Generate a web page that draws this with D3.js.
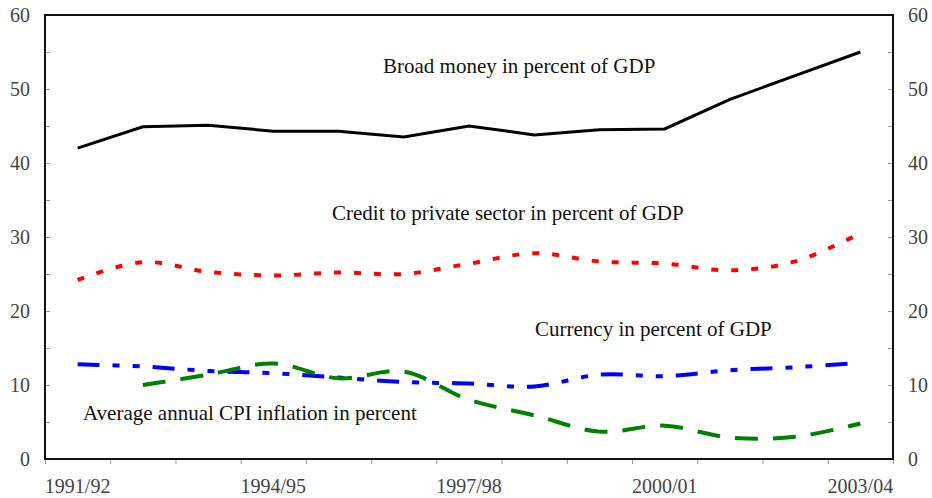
<!DOCTYPE html>
<html>
<head>
<meta charset="utf-8">
<script src="https://cdn.jsdelivr.net/npm/d3@7"></script>
<style>
    body { margin: 0; background: white; }
    svg { display: block; font-family: "Liberation Serif", "Times New Roman", serif; }
</style>
</head>
<body>
<svg id="chart" width="932" height="498"></svg>
<script>
// data
var years = ['1991/92', '1992/93', '1993/94', '1994/95', '1995/96', '1996/97', '1997/98',
             '1998/99', '1999/00', '2000/01', '2001/02', '2002/03', '2003/04'];
var labelYears = ['1991/92', '1994/95', '1997/98', '2000/01', '2003/04'];
var broadMoney = [42.0, 44.9, 45.1, 44.3, 44.3, 43.5, 45.0, 43.8, 44.5, 44.6, 48.6, 51.8, 55.0];
var credit     = [24.2, 26.6, 25.3, 24.8, 25.2, 25.0, 26.4, 27.8, 26.7, 26.4, 25.5, 26.7, 30.5];
var currency   = [12.8, 12.5, 11.9, 11.6, 11.0, 10.4, 10.2, 9.8, 11.4, 11.2, 12.0, 12.4, 13.0];
var inflation  = [null, 10.0, 11.4, 12.9, 10.9, 11.8, 8.0, 5.9, 3.7, 4.5, 2.9, 3.0, 4.8];
var yTicks = d3.range(0, 61, 5);

var svg = d3.select('#chart');
// plot box (note: 'top' is taken by window.top)
var pLeft = 45, pRight = 893, pTop = 15, pBottom = 459;

var x = d3.scaleBand().domain(years).range([pLeft, pRight]);
var xEdge = d3.scaleLinear().domain([0, years.length]).range([pLeft, pRight]);
var y = d3.scaleLinear().domain([0, 60]).range([pBottom, pTop]);

function cx(d){ return x(d) + x.bandwidth() / 2; }

// # axes
var fmt = function(d){ return d % 10 == 0 ? d : ''; };

var gl = svg.append('g').attr('transform', 'translate(' + pLeft + ',0)')
    .call(d3.axisLeft(y).tickValues(yTicks).tickSize(-5).tickPadding(15).tickFormat(fmt));
var gr = svg.append('g').attr('transform', 'translate(' + pRight + ',0)')
    .call(d3.axisRight(y).tickValues(yTicks).tickSize(-5).tickPadding(15).tickFormat(fmt));
var gb = svg.append('g').attr('transform', 'translate(0,' + pBottom + ')')
    .call(d3.axisBottom(xEdge).tickValues(d3.range(0, years.length + 1)).tickSize(5).tickFormat(''));
var gx = svg.append('g').attr('transform', 'translate(0,' + pBottom + ')')
    .call(d3.axisBottom(x).tickValues(labelYears).tickSize(0).tickPadding(20));

[gl, gr, gb, gx].forEach(function(g){
    g.select('.domain').remove();
    g.selectAll('line').attr('stroke', '#999');
    g.selectAll('text')
        .attr('font-family', '"Liberation Serif", serif')
        .attr('font-size', 20)
        .attr('fill', '#444');
});
gx.selectAll('text').attr('dy', '0.71em');

// # frame
svg.append('rect')
    .attr('x', pLeft).attr('y', pTop)
    .attr('width', pRight - pLeft).attr('height', pBottom - pTop)
    .attr('fill', 'none').attr('stroke', '#111').attr('stroke-width', 2);

// # lines
var series = [
    {values: broadMoney, color: '#000000', width: 3, dash: null, curve: d3.curveLinear},
    {values: credit, color: '#ff0000', width: 4, dash: '7,13', curve: d3.curveCatmullRom},
    {values: currency, color: '#0000ff', width: 4, dash: '22,13,7,13,7,13', curve: d3.curveCatmullRom},
    {values: inflation, color: '#008000', width: 4, dash: '23,15', curve: d3.curveCatmullRom}
];

series.forEach(function(s){
    var pts = years.map(function(yr, i){ return [yr, s.values[i]]; })
        .filter(function(p){ return p[1] != null; });
    var line = d3.line()
        .x(function(p){ return cx(p[0]); })
        .y(function(p){ return y(p[1]); })
        .curve(s.curve);
    svg.append('path')
        .attr('d', line(pts))
        .attr('fill', 'none')
        .attr('stroke', s.color)
        .attr('stroke-width', s.width)
        .attr('stroke-dasharray', s.dash);
});

// # annotations
var notes = [
    {text: 'Broad money in percent of GDP', x: 383, y: 73},
    {text: 'Credit to private sector in percent of GDP', x: 332, y: 220},
    {text: 'Currency in percent of GDP', x: 535, y: 336},
    {text: 'Average annual CPI inflation in percent', x: 83, y: 420}
];

svg.selectAll('text.note').data(notes).enter().append('text')
    .attr('class', 'note')
    .attr('x', function(d){ return d.x; })
    .attr('y', function(d){ return d.y; })
    .attr('font-size', 21)
    .attr('fill', '#111')
    .text(function(d){ return d.text; });
</script>
</body>
</html>
